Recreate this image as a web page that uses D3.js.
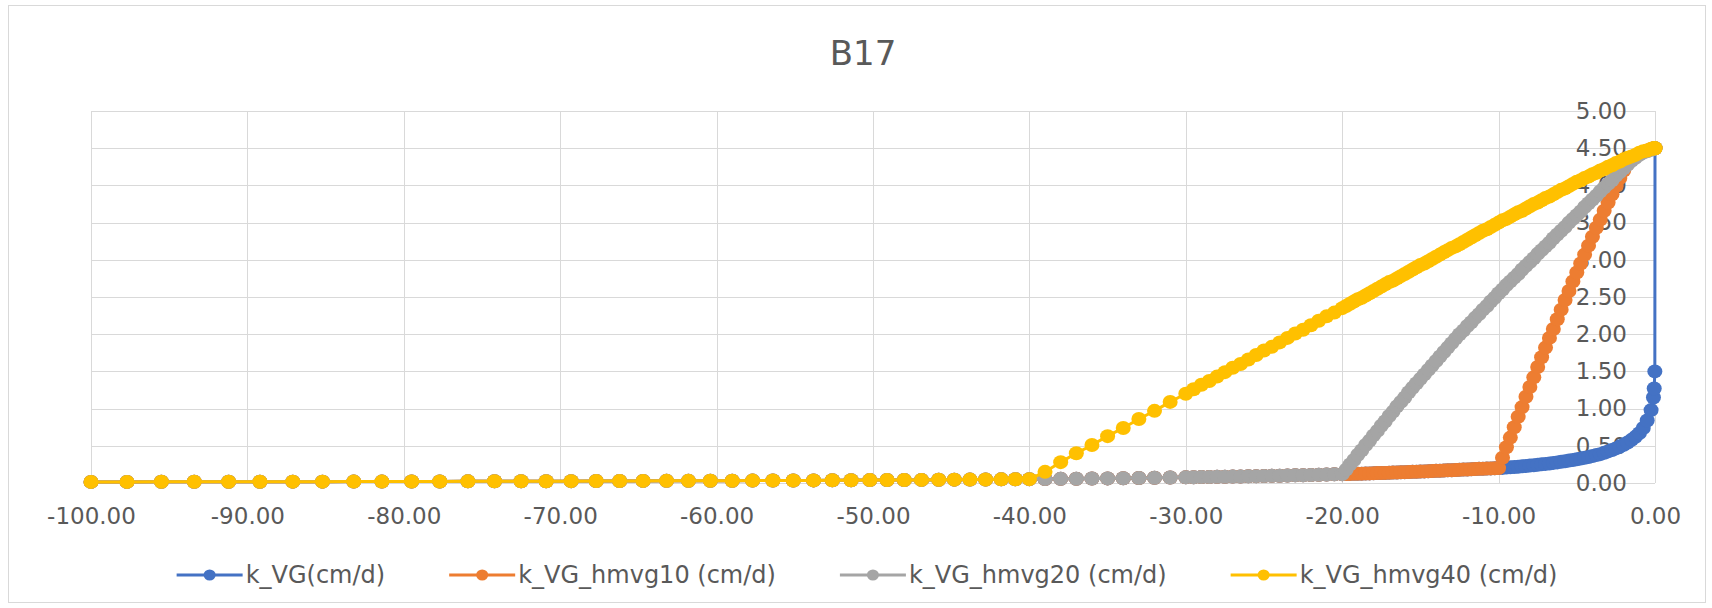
<!DOCTYPE html>
<html>
<head>
<meta charset="utf-8">
<script src="https://cdnjs.cloudflare.com/ajax/libs/d3/7.8.5/d3.min.js"></script>
<style>
  body { margin: 0; background: #fff; }
  svg { display: block; font-family: "DejaVu Sans", sans-serif; }
</style>
</head>
<body>
<div id="chart"></div>
<script>
// pressure head h (cm), shared by all four series
const hValues = [
  -100, -97.7, -95.5, -93.4, -91.2, -89.2, -87.1, -85.2, -83.2, -81.4,
  -79.5, -77.7, -75.9, -74.2, -72.5, -70.9, -69.3, -67.7, -66.2, -64.7,
  -63.2, -61.8, -60.4, -59.0, -57.7, -56.4, -55.1, -53.8, -52.6, -51.4,
  -50.2, -49.1, -48.0, -46.9, -45.8, -44.8, -43.8, -42.8, -41.8, -40.9,
  -40, -39, -38, -37, -36, -35, -34, -33, -32, -31,
  -30, -29.5, -29, -28.5, -28, -27.5, -27, -26.5, -26, -25.5,
  -25, -24.5, -24, -23.5, -23, -22.5, -22, -21.5, -21, -20.5,
  -20, -19.75, -19.5, -19.25, -19, -18.75, -18.5, -18.25,
  -18, -17.75, -17.5, -17.25, -17, -16.75, -16.5, -16.25,
  -16, -15.75, -15.5, -15.25, -15, -14.75, -14.5, -14.25,
  -14, -13.75, -13.5, -13.25, -13, -12.75, -12.5, -12.25,
  -12, -11.75, -11.5, -11.25, -11, -10.75, -10.5, -10.25,
  -10, -9.75, -9.5, -9.25, -9, -8.75, -8.5, -8.25,
  -8, -7.75, -7.5, -7.25, -7, -6.75, -6.5, -6.25,
  -6, -5.75, -5.5, -5.25, -5, -4.75, -4.5, -4.25,
  -4, -3.75, -3.5, -3.25, -3, -2.75, -2.5, -2.25,
  -2, -1.75, -1.5, -1.25, -1, -0.75, -0.5, -0.25,
  -0.1, -0.05, -0.01, 0
];

// k_VG (cm/d)
const kVG = [
  0.015, 0.015, 0.016, 0.016, 0.017, 0.017, 0.018, 0.018, 0.019, 0.019,
  0.020, 0.021, 0.022, 0.023, 0.023, 0.024, 0.025, 0.026, 0.027, 0.028,
  0.029, 0.029, 0.030, 0.031, 0.032, 0.033, 0.034, 0.035, 0.036, 0.037,
  0.039, 0.040, 0.041, 0.042, 0.044, 0.045, 0.046, 0.048, 0.049, 0.051,
  0.052, 0.054, 0.056, 0.058, 0.060, 0.062, 0.064, 0.067, 0.070, 0.073,
  0.076, 0.077, 0.079, 0.081, 0.083, 0.084, 0.086, 0.088, 0.090, 0.092,
  0.094, 0.096, 0.098, 0.100, 0.103, 0.105, 0.108, 0.110, 0.113, 0.116,
  0.119, 0.120, 0.122, 0.123, 0.125, 0.126, 0.128, 0.129,
  0.131, 0.133, 0.135, 0.136, 0.138, 0.140, 0.142, 0.144,
  0.146, 0.148, 0.150, 0.152, 0.154, 0.156, 0.158, 0.160,
  0.163, 0.165, 0.167, 0.170, 0.172, 0.175, 0.177, 0.180,
  0.182, 0.185, 0.187, 0.190, 0.192, 0.194, 0.196, 0.198,
  0.200, 0.203, 0.207, 0.211, 0.215, 0.219, 0.224, 0.229,
  0.234, 0.239, 0.245, 0.251, 0.257, 0.263, 0.270, 0.277,
  0.285, 0.293, 0.301, 0.310, 0.319, 0.329, 0.339, 0.350,
  0.362, 0.375, 0.388, 0.405, 0.425, 0.444, 0.465, 0.489,
  0.515, 0.545, 0.580, 0.620, 0.670, 0.740, 0.840, 0.980,
  1.15, 1.27, 1.50, 4.50
];

// modified curves: same as k_VG below their h_m, these are the values above it
const hmvg10Tail = [ // h > -10
  0.34, 0.48, 0.61,
  0.75, 0.89, 1.02, 1.16, 1.29, 1.42, 1.56, 1.69,
  1.82, 1.95, 2.07, 2.20, 2.33, 2.46, 2.58, 2.71,
  2.83, 2.95, 3.07, 3.19, 3.31, 3.43, 3.54, 3.66,
  3.77, 3.88, 3.99, 4.10, 4.20, 4.29, 4.36, 4.40,
  4.43, 4.45, 4.47, 4.49,
  4.50, 4.50, 4.50, 4.50
];
const hmvg20Tail = [ // h > -20
  0.18, 0.25, 0.31,
  0.38, 0.44, 0.51, 0.57, 0.64, 0.70, 0.77, 0.83,
  0.90, 0.96, 1.03, 1.09, 1.15, 1.22, 1.28, 1.34,
  1.40, 1.46, 1.52, 1.58, 1.64, 1.70, 1.76, 1.82,
  1.88, 1.94, 2.00, 2.05, 2.11, 2.16, 2.22, 2.27,
  2.33, 2.38, 2.44, 2.49, 2.55, 2.60, 2.66, 2.71,
  2.76, 2.81, 2.87, 2.92, 2.97, 3.02, 3.08, 3.13,
  3.18, 3.23, 3.29, 3.34, 3.39, 3.44, 3.50, 3.55,
  3.60, 3.65, 3.71, 3.76, 3.81, 3.86, 3.92, 3.97,
  4.02, 4.07, 4.13, 4.18, 4.23, 4.28, 4.33, 4.37,
  4.41, 4.44, 4.46, 4.48,
  4.49, 4.50, 4.50, 4.50
];
const hmvg40Tail = [ // h > -40
  0.15, 0.28, 0.40, 0.51, 0.63, 0.74, 0.86, 0.97, 1.09,
  1.20, 1.26, 1.32, 1.37, 1.43, 1.49, 1.55, 1.60, 1.66, 1.72,
  1.78, 1.83, 1.89, 1.95, 2.01, 2.06, 2.12, 2.18, 2.24, 2.29,
  2.35, 2.38, 2.41, 2.44, 2.47, 2.49, 2.52, 2.55,
  2.58, 2.61, 2.64, 2.67, 2.70, 2.72, 2.75, 2.78,
  2.81, 2.84, 2.87, 2.90, 2.93, 2.95, 2.98, 3.01,
  3.04, 3.07, 3.10, 3.13, 3.16, 3.18, 3.21, 3.24,
  3.27, 3.30, 3.33, 3.36, 3.39, 3.41, 3.44, 3.47,
  3.50, 3.53, 3.55, 3.58, 3.61, 3.64, 3.66, 3.69,
  3.72, 3.75, 3.77, 3.80, 3.83, 3.85, 3.88, 3.91,
  3.94, 3.96, 3.99, 4.02, 4.05, 4.07, 4.10, 4.12,
  4.15, 4.17, 4.20, 4.22, 4.25, 4.27, 4.30, 4.32,
  4.35, 4.37, 4.39, 4.41, 4.44, 4.46, 4.47, 4.49,
  4.50, 4.50, 4.50, 4.50
];

const seriesNames = ["k_VG(cm/d)", "k_VG_hmvg10 (cm/d)", "k_VG_hmvg20 (cm/d)", "k_VG_hmvg40 (cm/d)"];
const seriesColors = ["#4472C4", "#ED7D31", "#A5A5A5", "#FFC000"];
const xTicks = [-100, -90, -80, -70, -60, -50, -40, -30, -20, -10, 0];
const yTicks = [0, 0.5, 1, 1.5, 2, 2.5, 3, 3.5, 4, 4.5, 5];

const withHead = (hm, tail) => kVG.slice(0, hValues.indexOf(hm) + 1).concat(tail);
const seriesValues = [kVG, withHead(-10, hmvg10Tail), withHead(-20, hmvg20Tail), withHead(-40, hmvg40Tail)];

const series = seriesNames.map((name, i) => ({
  name,
  color: seriesColors[i],
  points: hValues.map((h, j) => ({ h, k: seriesValues[i][j] })),
}));

const width = 1712;
const height = 608;

const svg = d3.select("#chart").append("svg")
  .attr("width", width)
  .attr("height", height);

svg.append("rect")
  .attr("x", 8.5).attr("y", 5.5)
  .attr("width", 1697).attr("height", 597)
  .attr("fill", "#fff")
  .attr("stroke", "#d9d9d9");

const x = d3.scaleLinear().domain([-100, 0]).range([91, 1655]);
const y = d3.scaleLinear().domain([0, 5]).range([483, 111]);

// gridlines
svg.append("g").selectAll("line").data(yTicks).join("line")
  .attr("x1", x(-100)).attr("x2", x(0))
  .attr("y1", (d) => Math.round(y(d)) + 0.5).attr("y2", (d) => Math.round(y(d)) + 0.5)
  .attr("stroke", "#d9d9d9").attr("stroke-width", 1);
svg.append("g").selectAll("line").data(xTicks).join("line")
  .attr("x1", (d) => Math.round(x(d)) + 0.5).attr("x2", (d) => Math.round(x(d)) + 0.5)
  .attr("y1", y(0)).attr("y2", y(5))
  .attr("stroke", "#d9d9d9").attr("stroke-width", 1);

// axes (labels only)
const xAxis = svg.append("g")
  .attr("transform", "translate(0," + y(0) + ")")
  .call(d3.axisBottom(x).tickValues(xTicks).tickSize(0).tickPadding(25).tickFormat((d) => d.toFixed(2)));
const yAxis = svg.append("g")
  .attr("transform", "translate(" + x(0) + ",0)")
  .call(d3.axisLeft(y).tickValues(yTicks).tickSize(0).tickPadding(28).tickFormat((d) => d.toFixed(2)));
[xAxis, yAxis].forEach((g) => {
  g.select(".domain").remove();
  g.selectAll("text")
    .attr("fill", "#595959")
    .style("font-size", "23px")
    .style("font-family", "DejaVu Sans");
});

// title
svg.append("text")
  .attr("x", 863).attr("y", 65)
  .attr("text-anchor", "middle")
  .attr("fill", "#595959")
  .style("font-size", "34px")
  .text("B17");

// series: line then markers, in order so the last one sits on top
const line = d3.line().x((d) => x(d.h)).y((d) => y(d.k));
series.forEach((s) => {
  const g = svg.append("g");
  g.append("path")
    .datum(s.points)
    .attr("d", line)
    .attr("fill", "none")
    .attr("stroke", s.color)
    .attr("stroke-width", 3)
    .attr("stroke-linejoin", "round");
  g.selectAll("ellipse").data(s.points).join("ellipse")
    .attr("cx", (d) => x(d.h))
    .attr("cy", (d) => y(d.k))
    .attr("rx", 7.5).attr("ry", 7)
    .attr("fill", s.color);
});

// legend
const legend = svg.append("g").attr("transform", "translate(0,575)");
const items = legend.selectAll("g").data(series).join("g");
items.append("line")
  .attr("x1", 0).attr("x2", 66)
  .attr("stroke", (d) => d.color).attr("stroke-width", 3);
items.append("ellipse")
  .attr("cx", 33).attr("rx", 6).attr("ry", 5.5)
  .attr("fill", (d) => d.color);
items.append("text")
  .attr("x", 69).attr("y", 8)
  .attr("fill", "#595959")
  .style("font-size", "24px")
  .text((d) => d.name);

const gap = 64;
const widths = [];
items.each(function () {
  widths.push(69 + this.querySelector("text").getComputedTextLength());
});
const total = d3.sum(widths) + gap * (widths.length - 1);
let cursor = 867 - total / 2;
items.attr("transform", (d, i) => {
  const t = "translate(" + cursor + ",0)";
  cursor += widths[i] + gap;
  return t;
});
</script>
</body>
</html>
